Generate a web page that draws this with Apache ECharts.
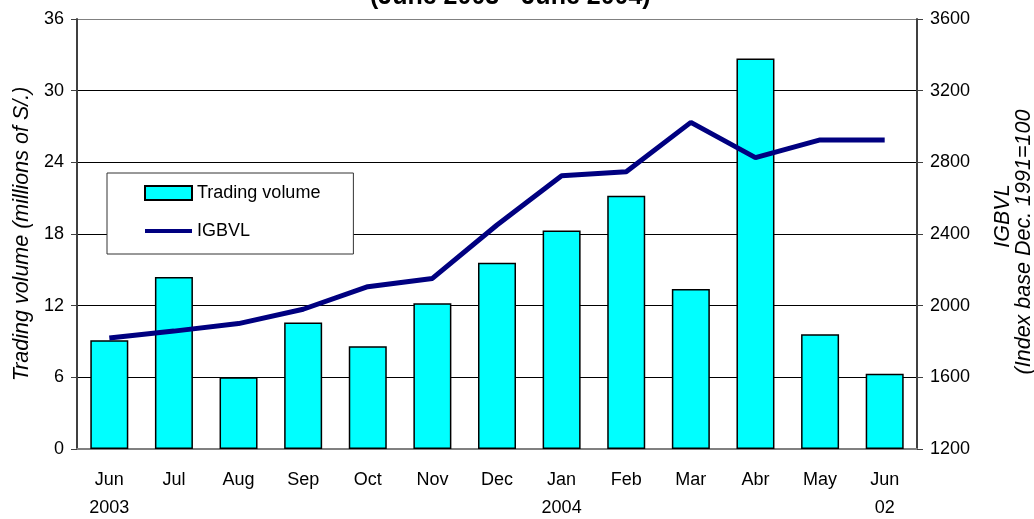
<!DOCTYPE html>
<html>
<head>
<meta charset="utf-8">
<script src="https://cdn.jsdelivr.net/npm/echarts@6/dist/echarts.min.js"></script>
<style>
  html, body { margin: 0; padding: 0; background: #fff; }
  #chart { width: 1034px; height: 519px; }
</style>
</head>
<body>
<div id="chart"></div>
<script>
// months on the x axis, with the year under the first, the Jan and the last one
var months = ['Jun', 'Jul', 'Aug', 'Sep', 'Oct', 'Nov', 'Dec', 'Jan', 'Feb', 'Mar', 'Abr', 'May', 'Jun'];
var years = ['2003', '', '', '', '', '', '', '2004', '', '', '', '', '02'];

// trading volume, millions of S/. (left axis)
var volume = [9.1, 14.4, 6.0, 10.6, 8.6, 12.2, 15.6, 18.3, 21.2, 13.4, 32.7, 9.6, 6.3];

// IGBVL index, base Dec.1991=100 (right axis)
var igbvl = [1820, 1858, 1900, 1980, 2106, 2152, 2450, 2725, 2748, 3023, 2826, 2925, 2925];

var leftTicks = [0, 6, 12, 18, 24, 30, 36];
var rightTicks = [1200, 1600, 2000, 2400, 2800, 3200, 3600];

var labels = months.map(function (m, i) {
  return years[i] ? m + '\n' + years[i] : m;
});

var font = 'Liberation Sans';

// grid lines black, the top one grey like the plot border
var splitColors = leftTicks.map(function (t, i) {
  return i === leftTicks.length - 1 ? '#808080' : '#000';
});

var chart = echarts.init(document.getElementById('chart'), null, { renderer: 'canvas' });

chart.setOption({
  animation: false,
  backgroundColor: '#fff',
  title: {
    text: '(June 2003 - June 2004)',
    left: 370,
    top: -15,
    padding: 0,
    textStyle: { fontFamily: font, fontSize: 25, fontWeight: 'bold', color: '#000' }
  },
  legend: {
    orient: 'vertical',
    left: 107,
    top: 173,
    padding: [11, 33, 14, 36],
    itemGap: 20,
    itemWidth: 47,
    itemHeight: 14,
    backgroundColor: '#fff',
    borderColor: '#333',
    borderWidth: 1,
    borderRadius: 0,
    textStyle: { fontFamily: font, fontSize: 18, color: '#000' },
    data: [
      { name: 'Trading volume', icon: 'rect' },
      { name: 'IGBVL', itemStyle: { opacity: 0 }, lineStyle: { width: 4 } }
    ]
  },
  grid: { left: 77, right: 117, top: 19, bottom: 70, outerBoundsMode: 'none' },
  xAxis: {
    type: 'category',
    data: labels,
    axisTick: { show: false },
    axisLine: { show: true, lineStyle: { color: '#808080', width: 2 } },
    axisLabel: {
      fontFamily: font, fontSize: 18, color: '#000',
      margin: 17, lineHeight: 28, interval: 0
    }
  },
  yAxis: [
    {
      type: 'value',
      min: leftTicks[0],
      max: leftTicks[leftTicks.length - 1],
      interval: 6,
      name: 'Trading volume (millions of S/.)',
      nameLocation: 'middle',
      nameGap: 43,
      nameRotate: 90,
      nameTextStyle: { fontFamily: font, fontSize: 21.5, fontStyle: 'italic', color: '#000' },
      axisLine: { show: true, lineStyle: { color: '#404040', width: 2 } },
      axisTick: { show: true, length: 6, lineStyle: { color: '#404040', width: 1 } },
      axisLabel: { fontFamily: font, fontSize: 18, color: '#000', margin: 13 },
      splitLine: { show: true, lineStyle: { color: splitColors, width: 1 } }
    },
    {
      type: 'value',
      position: 'right',
      min: rightTicks[0],
      max: rightTicks[rightTicks.length - 1],
      interval: 400,
      name: '{a|IGBVL}\n{b|(Index base Dec. 1991=100}',
      nameLocation: 'middle',
      nameGap: 76,
      nameRotate: 90,
      nameTextStyle: {
        fontFamily: font, fontSize: 21.5, fontStyle: 'italic', color: '#000',
        lineHeight: 21, align: 'center',
        rich: {
          a: { fontFamily: font, fontSize: 21.5, fontStyle: 'italic', color: '#000', lineHeight: 21, padding: [0, 0, 0, 36] },
          b: { fontFamily: font, fontSize: 21.5, fontStyle: 'italic', color: '#000', lineHeight: 21, padding: [0, 16, 0, 0] }
        }
      },
      axisLine: { show: true, lineStyle: { color: '#404040', width: 2 } },
      axisTick: { show: true, length: 6, lineStyle: { color: '#404040', width: 1 } },
      axisLabel: {
        fontFamily: font, fontSize: 18, color: '#000', margin: 13,
        formatter: function (v) { return String(v); }
      },
      splitLine: { show: false }
    }
  ],
  series: [
    {
      name: 'Trading volume',
      type: 'bar',
      yAxisIndex: 0,
      data: volume,
      barWidth: 38,
      itemStyle: { color: '#00ffff', borderColor: '#000', borderWidth: 1.5 }
    },
    {
      name: 'IGBVL',
      type: 'line',
      yAxisIndex: 1,
      data: igbvl,
      symbol: 'none',
      lineStyle: { color: '#000080', width: 5 },
      itemStyle: { color: '#000080' }
    }
  ]
});
</script>
</body>
</html>
